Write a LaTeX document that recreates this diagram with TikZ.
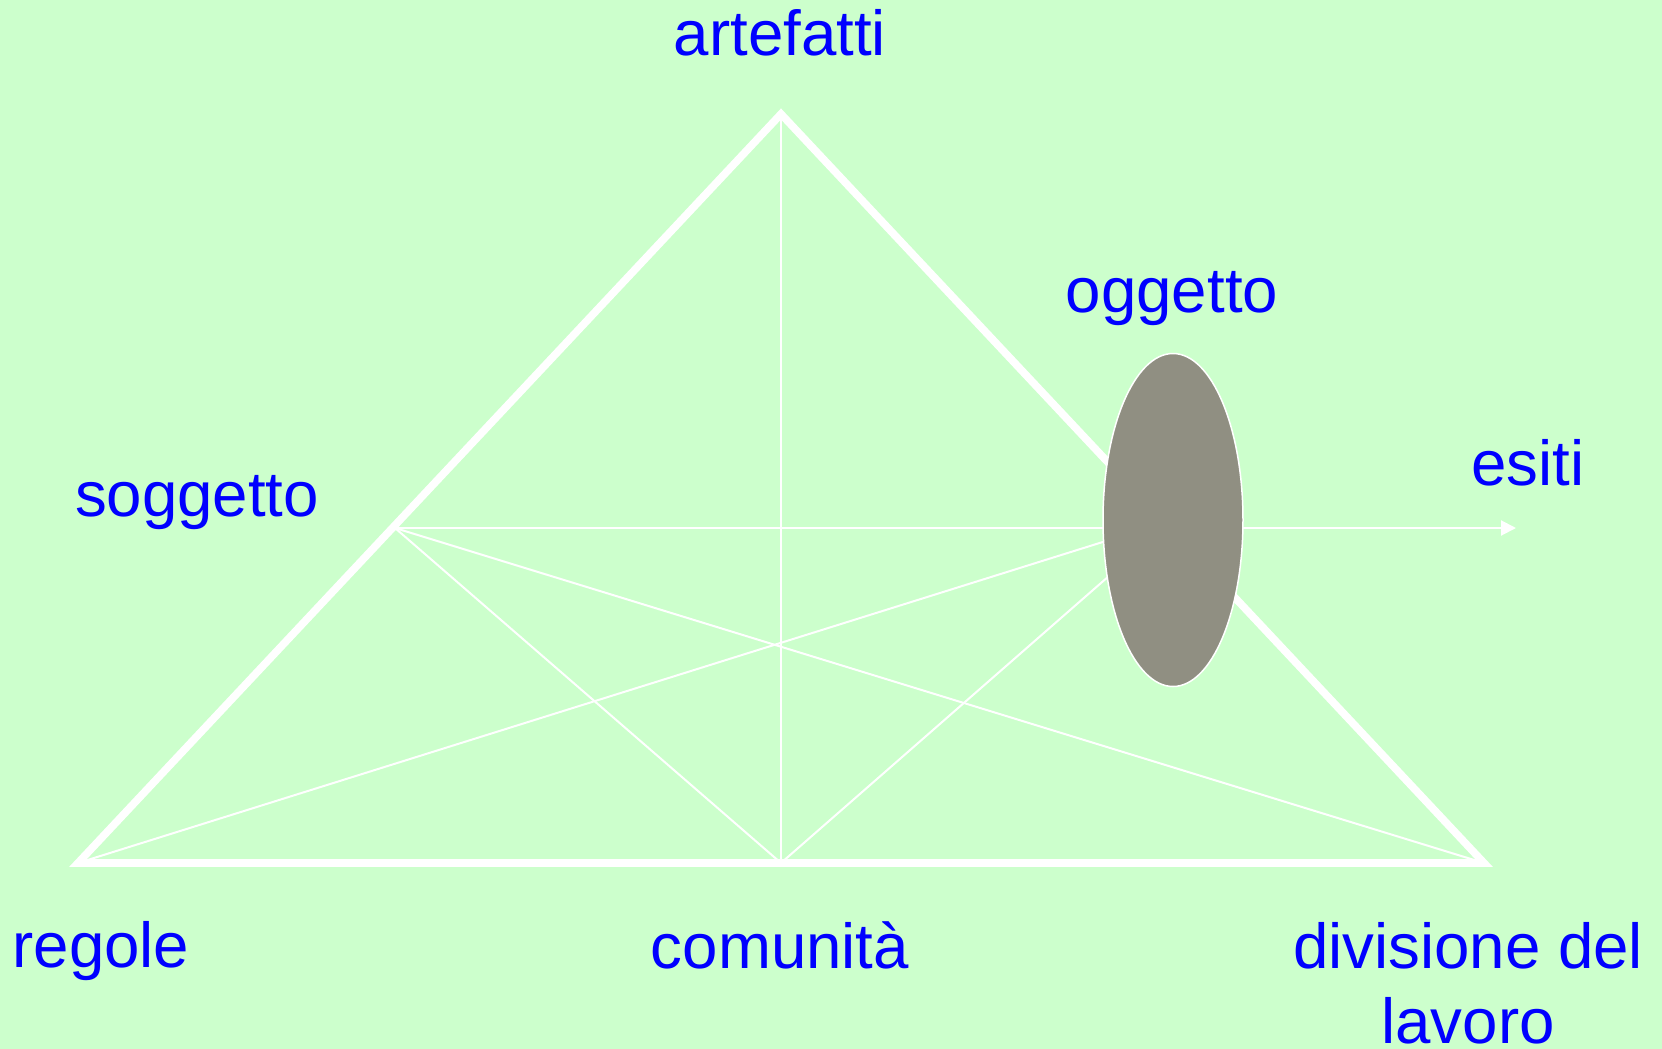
\documentclass[tikz,border=0pt]{standalone}
\usepackage{fontspec}
\setmainfont{Liberation Sans}
\usetikzlibrary{shapes.geometric,arrows.meta}
\definecolor{bgGreen}{HTML}{CCFFCC}
\definecolor{objGray}{RGB}{144,143,130}
\definecolor{lblBlue}{HTML}{0000FF}

\begin{document}
\begin{tikzpicture}[x=0.5pt, y=-0.5pt,
  every node/.style={font=\fontsize{31.8}{37.5}\selectfont, text=lblBlue, inner sep=0pt, anchor=base},
  frame/.style={draw=white, line width=3.8pt, line join=miter},
  link/.style={draw=white, line width=1pt}]
  \fill[bgGreen] (0,0) rectangle (1662,1049);
  \useasboundingbox (0,0) rectangle (1662,1049);
  % corners of the triangle and inner points
  \coordinate (art) at (781,114);
  \coordinate (reg) at (78,863);
  \coordinate (div) at (1484,863);
  \coordinate (com) at (781,863);
  \coordinate (sog) at (395,528);
  \coordinate (ogg) at (1173,520);
  \coordinate (esi) at (1516,528);
  \draw[frame] (art) -- (reg) -- (div) -- cycle;
  \draw[link] (art) -- (com);
  \draw[link] (sog) -- (com);
  \draw[link] (sog) -- (div);
  \draw[link] (reg) -- (ogg);
  \draw[link] (com) -- (ogg);
  \draw[link, -{Triangle[length=7.5pt, width=7.5pt]}] (sog) -- (esi);
  % object
  \node[ellipse, draw=white, line width=0.75pt, fill=objGray, minimum width=70pt, minimum height=166.5pt, anchor=center] (obj) at (ogg) {};
  % labels
  \node (lart) at (780,55) {artefatti};
  \node (lsog) at (197,516) {soggetto};
  \node (logg) at (1172,312) {oggetto};
  \node (lesi) at (1528,485) {esiti};
  \node (lreg) at (101,967) {regole};
  \node (lcom) at (780,968) {comunità};
  \node[align=center] (ldiv) at (1468,1043) {divisione del\\lavoro};
\end{tikzpicture}
\end{document}
